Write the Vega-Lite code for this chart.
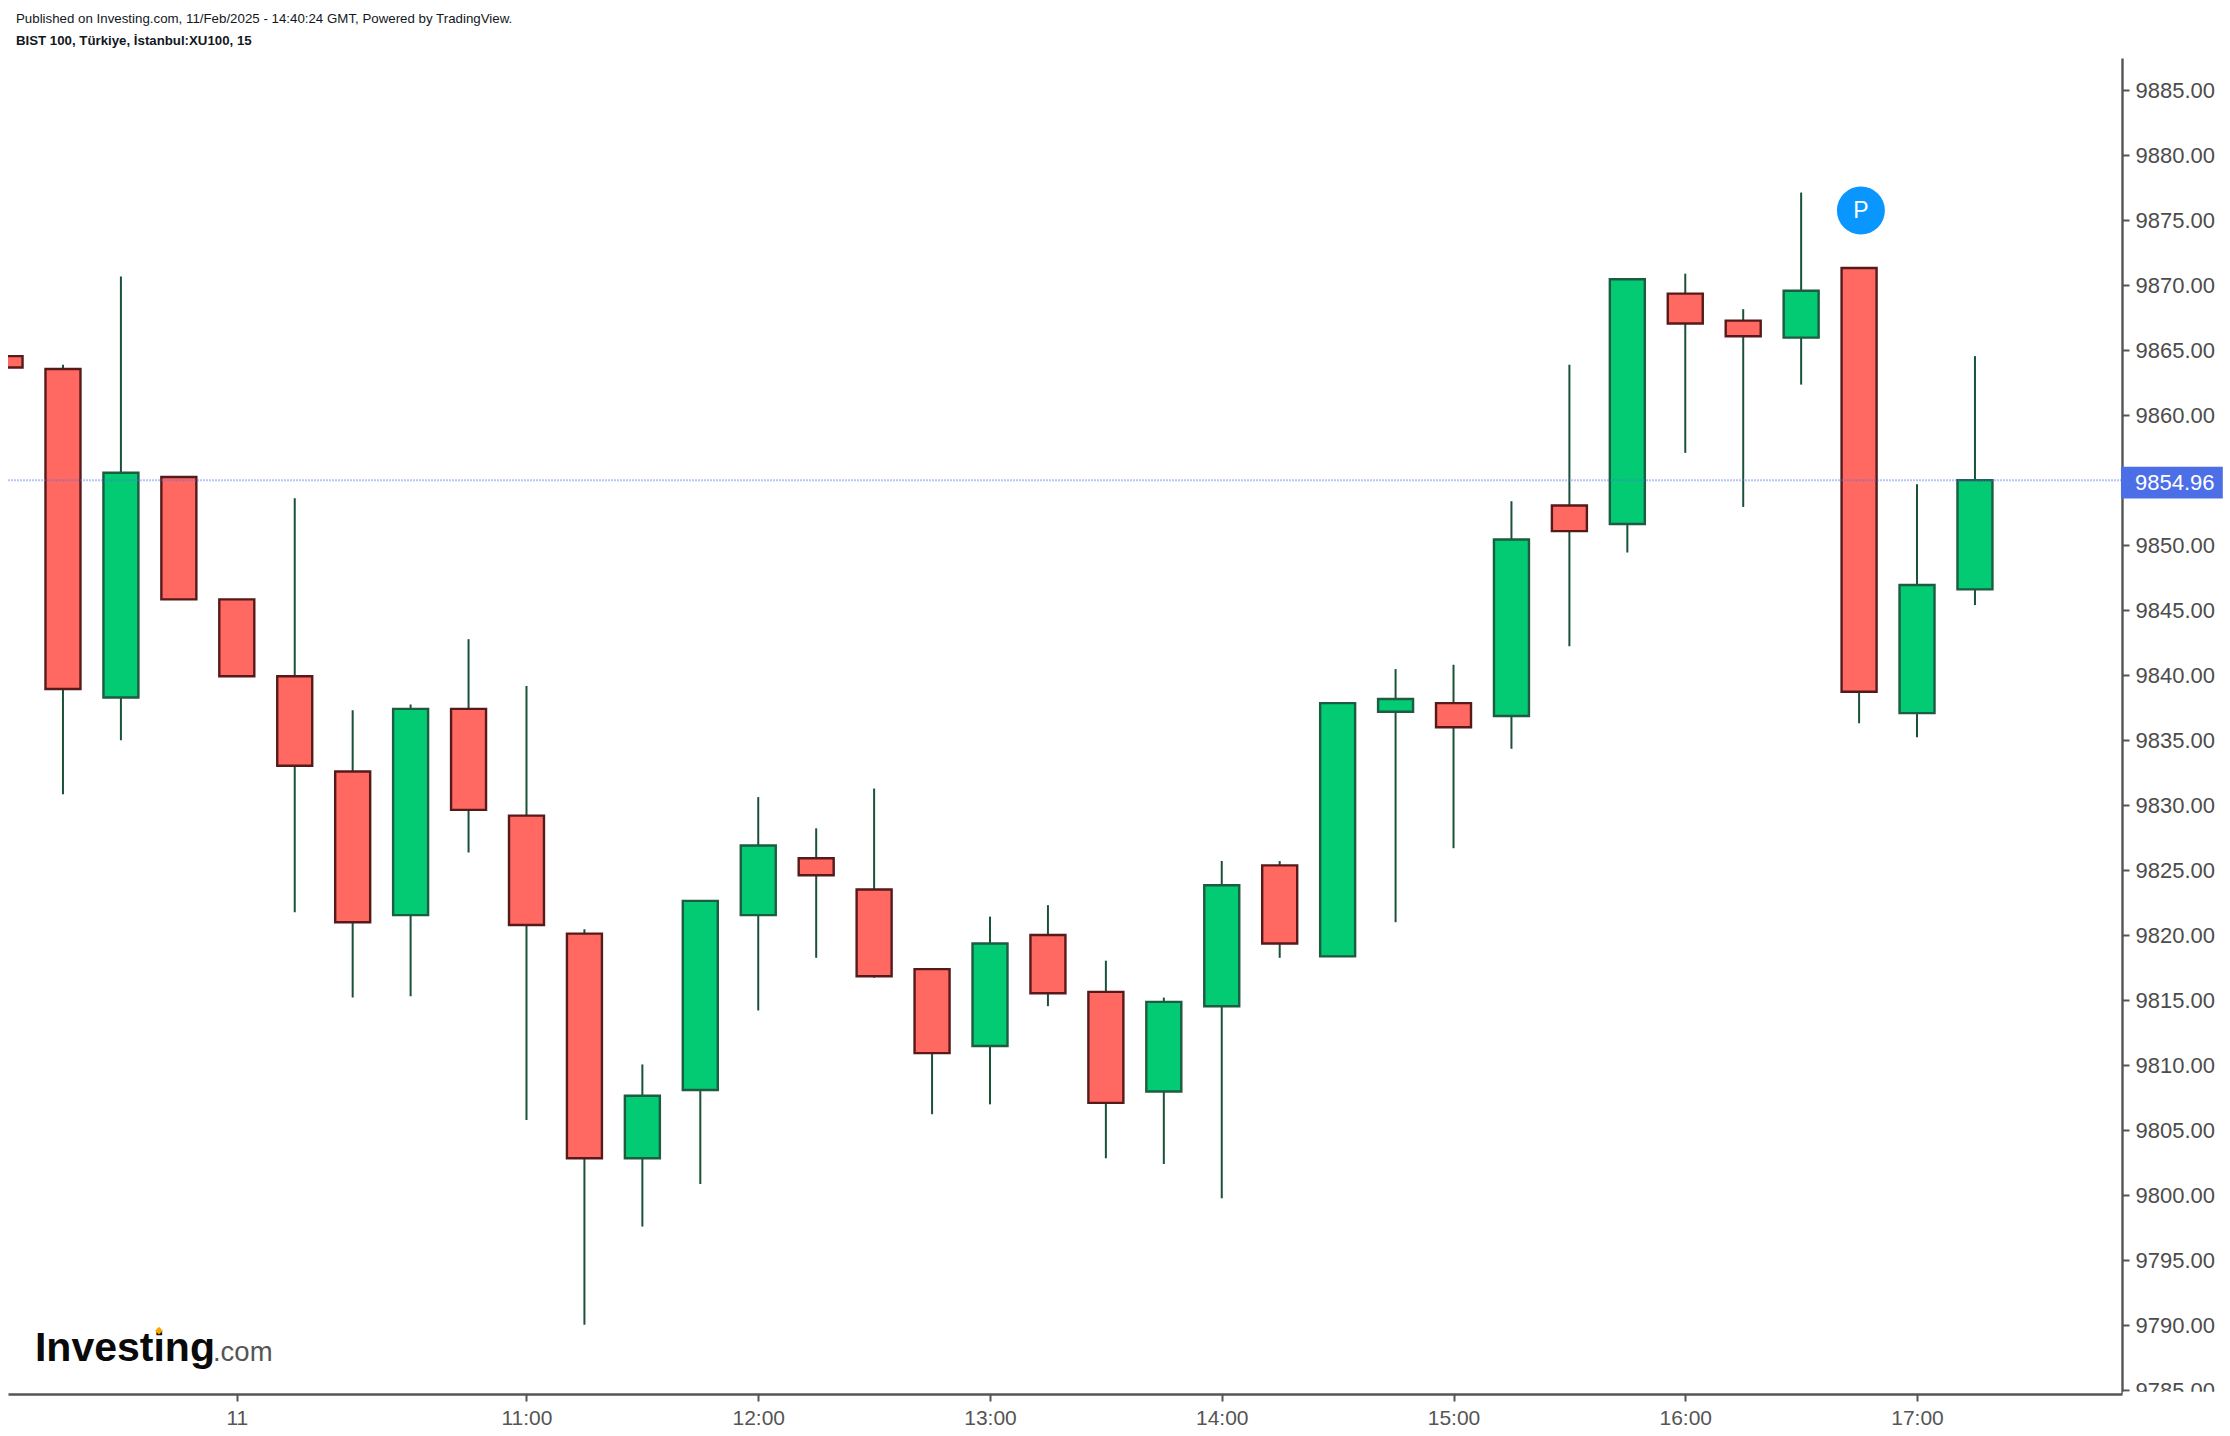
{
"$schema":"https://vega.github.io/schema/vega-lite/v6.json",
"width":2114,"height":1336,
"autosize":{"type":"none"},
"padding":{"left":8,"top":58,"right":108,"bottom":42},
"background":"#ffffff",
"config":{"view":{"stroke":null},"font":"Liberation Sans"},
"title":{"text":"Published on Investing.com, 11/Feb/2025 - 14:40:24 GMT, Powered by TradingView.","subtitle":"BIST 100, Türkiye, İstanbul:XU100, 15","anchor":"start","frame":"group","dx":8,"offset":11,"font":"Liberation Sans","fontSize":13.3,"fontWeight":"normal","color":"#131722","subtitleFont":"Liberation Sans","subtitleFontSize":13.25,"subtitleFontWeight":"bold","subtitleColor":"#131722","subtitlePadding":9},
"layer":[
{"data":{"name":"candles","values":[
{"time":"2025-02-11T08:45:00","open":9864.5,"high":9864.5,"low":9863.62,"close":9863.62,"dir":"down"},
{"time":"2025-02-11T09:00:00","open":9863.51,"high":9863.84,"low":9830.8,"close":9838.9,"dir":"down"},
{"time":"2025-02-11T09:15:00","open":9838.24,"high":9870.62,"low":9834.96,"close":9855.53,"dir":"up"},
{"time":"2025-02-11T09:30:00","open":9855.2,"high":9855.2,"low":9845.79,"close":9845.79,"dir":"down"},
{"time":"2025-02-11T09:45:00","open":9845.79,"high":9845.79,"low":9839.88,"close":9839.88,"dir":"down"},
{"time":"2025-02-11T10:00:00","open":9839.88,"high":9853.56,"low":9821.72,"close":9832.99,"dir":"down"},
{"time":"2025-02-11T10:15:00","open":9832.55,"high":9837.26,"low":9815.16,"close":9820.96,"dir":"down"},
{"time":"2025-02-11T10:30:00","open":9821.5,"high":9837.7,"low":9815.27,"close":9837.37,"dir":"up"},
{"time":"2025-02-11T10:45:00","open":9837.37,"high":9842.73,"low":9826.32,"close":9829.6,"dir":"down"},
{"time":"2025-02-11T11:00:00","open":9829.16,"high":9839.12,"low":9805.75,"close":9820.74,"dir":"down"},
{"time":"2025-02-11T11:15:00","open":9820.08,"high":9820.41,"low":9790.0,"close":9802.8,"dir":"down"},
{"time":"2025-02-11T11:30:00","open":9802.8,"high":9810.02,"low":9797.55,"close":9807.61,"dir":"up"},
{"time":"2025-02-11T11:45:00","open":9808.05,"high":9822.6,"low":9800.83,"close":9822.6,"dir":"up"},
{"time":"2025-02-11T12:00:00","open":9821.5,"high":9830.58,"low":9814.17,"close":9826.86,"dir":"up"},
{"time":"2025-02-11T12:15:00","open":9825.88,"high":9828.18,"low":9818.22,"close":9824.57,"dir":"down"},
{"time":"2025-02-11T12:30:00","open":9823.47,"high":9831.24,"low":9816.69,"close":9816.8,"dir":"down"},
{"time":"2025-02-11T12:45:00","open":9817.35,"high":9817.35,"low":9806.19,"close":9810.89,"dir":"down"},
{"time":"2025-02-11T13:00:00","open":9811.44,"high":9821.39,"low":9806.95,"close":9819.32,"dir":"up"},
{"time":"2025-02-11T13:15:00","open":9819.97,"high":9822.27,"low":9814.5,"close":9815.49,"dir":"down"},
{"time":"2025-02-11T13:30:00","open":9815.6,"high":9818.0,"low":9802.8,"close":9807.06,"dir":"down"},
{"time":"2025-02-11T13:45:00","open":9807.94,"high":9815.16,"low":9802.36,"close":9814.83,"dir":"up"},
{"time":"2025-02-11T14:00:00","open":9814.5,"high":9825.66,"low":9799.73,"close":9823.8,"dir":"up"},
{"time":"2025-02-11T14:15:00","open":9825.33,"high":9825.66,"low":9818.22,"close":9819.32,"dir":"down"},
{"time":"2025-02-11T14:30:00","open":9818.33,"high":9837.81,"low":9818.33,"close":9837.81,"dir":"up"},
{"time":"2025-02-11T14:45:00","open":9837.15,"high":9840.43,"low":9820.96,"close":9838.13,"dir":"up"},
{"time":"2025-02-11T15:00:00","open":9837.81,"high":9840.76,"low":9826.65,"close":9835.95,"dir":"down"},
{"time":"2025-02-11T15:15:00","open":9836.82,"high":9853.34,"low":9834.3,"close":9850.39,"dir":"up"},
{"time":"2025-02-11T15:30:00","open":9853.01,"high":9863.84,"low":9842.18,"close":9851.04,"dir":"down"},
{"time":"2025-02-11T15:45:00","open":9851.59,"high":9870.41,"low":9849.4,"close":9870.41,"dir":"up"},
{"time":"2025-02-11T16:00:00","open":9869.31,"high":9870.84,"low":9857.06,"close":9867.01,"dir":"down"},
{"time":"2025-02-11T16:15:00","open":9867.23,"high":9868.11,"low":9852.9,"close":9866.03,"dir":"down"},
{"time":"2025-02-11T16:30:00","open":9865.92,"high":9877.08,"low":9862.31,"close":9869.53,"dir":"up"},
{"time":"2025-02-11T16:45:00","open":9871.28,"high":9871.28,"low":9836.27,"close":9838.68,"dir":"down"},
{"time":"2025-02-11T17:00:00","open":9837.04,"high":9854.65,"low":9835.18,"close":9846.89,"dir":"up"},
{"time":"2025-02-11T17:15:00","open":9846.56,"high":9864.5,"low":9845.35,"close":9854.96,"dir":"up"}
]},
"layer":[
{"mark":{"type":"rule","clip":true,"color":"#1a5238","strokeWidth":2},
 "encoding":{"x":{"field":"time","type":"temporal"},"y":{"field":"high","type":"quantitative"},"y2":{"field":"low"}}},
{"mark":{"type":"bar","clip":true,"size":35,"strokeWidth":2.4},
 "encoding":{"x":{"field":"time","type":"temporal"},"y":{"field":"open","type":"quantitative"},"y2":{"field":"close"},
  "fill":{"field":"dir","type":"nominal","legend":null,"scale":{"domain":["up","down"],"range":["#02cb74","#ff6961"]}},
  "stroke":{"field":"dir","type":"nominal","legend":null,"scale":{"domain":["up","down"],"range":["#1d5c40","#571a1a"]}}}}
]
},
{"data":{"values":[{"time":"2025-02-11T08:45:46","time2":"2025-02-11T17:54:22","price":9854.96}]},
 "mark":{"type":"rule","color":"#4c6fe8","strokeWidth":2,"strokeDash":[2,1],"opacity":0.4},
 "encoding":{"x":{"field":"time","type":"temporal"},"x2":{"field":"time2"},"y":{"field":"price","type":"quantitative"}}},
{"data":{"values":[{"time":"2025-02-11T17:52:48","time2":"2025-02-11T18:19:10","top":9856.0,"bottom":9853.54}]},
 "mark":{"type":"bar","color":"#4c6fe8"},
 "encoding":{"x":{"field":"time","type":"temporal"},"x2":{"field":"time2"},"y":{"field":"top","type":"quantitative"},"y2":{"field":"bottom"}}},
{"data":{"values":[{"time":"2025-02-11T17:56:25","price":9854.72,"label":"9854.96"}]},
 "mark":{"type":"text","color":"#ffffff","fontSize":22,"align":"left","baseline":"middle"},
 "encoding":{"x":{"field":"time","type":"temporal"},"y":{"field":"price","type":"quantitative"},"text":{"field":"label"}}},
{"data":{"values":[{"time":"2025-02-11T17:53:16","time2":"2025-02-11T18:20:00","top":9784.85,"bottom":9782.0}]},
 "mark":{"type":"bar","color":"#ffffff"},
 "encoding":{"x":{"field":"time","type":"temporal"},"x2":{"field":"time2"},"y":{"field":"top","type":"quantitative"},"y2":{"field":"bottom"}}},
{"data":{"values":[{"time":"2025-02-11T16:45:28","price":9875.7,"label":"P"}]},
 "layer":[
 {"mark":{"type":"point","shape":"circle","filled":true,"opacity":1,"size":2304,"color":"#0a96ff"},
  "encoding":{"x":{"field":"time","type":"temporal"},"y":{"field":"price","type":"quantitative"}}},
 {"mark":{"type":"text","color":"#ffffff","fontSize":23,"baseline":"middle","align":"center"},
  "encoding":{"x":{"field":"time","type":"temporal"},"y":{"field":"price","type":"quantitative"},"text":{"field":"label"}}}
 ]},
{"data":{"values":[{"time":"2025-02-11T08:52:45","price":9787.23,"label":"Investing"}]},
 "mark":{"type":"text","color":"#0a0a0a","fontSize":41,"fontWeight":"bold","align":"left","baseline":"alphabetic"},
 "encoding":{"x":{"field":"time","type":"temporal"},"y":{"field":"price","type":"quantitative"},"text":{"field":"label"}}},
{"data":{"values":[{"time":"2025-02-11T09:38:50","price":9787.23,"label":".com"}]},
 "mark":{"type":"text","color":"#555555","fontSize":27.5,"align":"left","baseline":"alphabetic"},
 "encoding":{"x":{"field":"time","type":"temporal"},"y":{"field":"price","type":"quantitative"},"text":{"field":"label"}}},
{"data":{"values":[{"time":"2025-02-11T09:24:51","price":9789.54}]},
 "mark":{"type":"point","shape":"diamond","filled":true,"opacity":1,"size":60,"color":"#f7a600"},
 "encoding":{"x":{"field":"time","type":"temporal"},"y":{"field":"price","type":"quantitative"}}}
],
"resolve":{"scale":{"x":"shared","y":"shared"}},
"encoding":{
"x":{"scale":{"domain":["2025-02-11T08:45:46","2025-02-11T17:53:04"],"nice":false,"padding":0},
 "axis":{"title":null,"orient":"bottom","grid":false,"domainColor":"#555555","domainWidth":2.4,"tickColor":"#555555","tickWidth":2,"tickSize":7,"labelColor":"#555555","labelFont":"Liberation Sans","labelFontSize":21,"labelPadding":6,"labelOverlap":false,"labelBound":false,"labelFlush":false,
 "values":[{"year":2025,"month":2,"date":11,"hours":9,"minutes":45},{"year":2025,"month":2,"date":11,"hours":11},{"year":2025,"month":2,"date":11,"hours":12},{"year":2025,"month":2,"date":11,"hours":13},{"year":2025,"month":2,"date":11,"hours":14},{"year":2025,"month":2,"date":11,"hours":15},{"year":2025,"month":2,"date":11,"hours":16},{"year":2025,"month":2,"date":11,"hours":17}],
 "labelExpr":"timeFormat(datum.value,'%H:%M')=='09:45'?'11':timeFormat(datum.value,'%H:%M')"}},
"y":{"scale":{"domain":[9784.67,9887.43],"nice":false,"zero":false},
 "axis":{"title":null,"orient":"right","grid":false,"domainColor":"#555555","domainWidth":2.4,"tickColor":"#555555","tickWidth":2,"tickSize":7,"labelColor":"#4c4c4c","labelFont":"Liberation Sans","labelFontSize":22,"labelPadding":6,"labelOffset":1,"labelOverlap":false,"labelBound":false,"labelFlush":false,"format":".2f",
 "values":[9785,9790,9795,9800,9805,9810,9815,9820,9825,9830,9835,9840,9845,9850,9860,9865,9870,9875,9880,9885]}}
}
}
